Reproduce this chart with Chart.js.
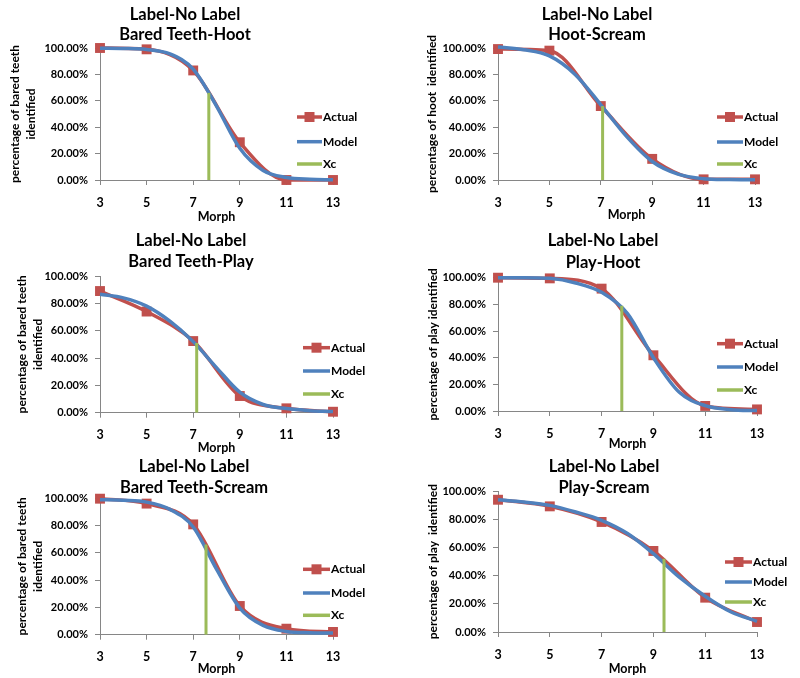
<!DOCTYPE html>
<html>
<head>
<meta charset="utf-8">
<script src="https://cdn.jsdelivr.net/npm/chart.js@4.4.0/dist/chart.umd.min.js"></script>
<style>
  html, body { margin: 0; padding: 0; background: #fff; overflow: hidden; }
  canvas { position: absolute; }
</style>
</head>
<body>
<canvas id="c1" width="400" height="230" style="left:0;top:0"></canvas>
<canvas id="c2" width="400" height="230" style="left:400px;top:0"></canvas>
<canvas id="c3" width="400" height="230" style="left:0;top:226px"></canvas>
<canvas id="c4" width="400" height="230" style="left:400px;top:226px"></canvas>
<canvas id="c5" width="400" height="230" style="left:0;top:452px"></canvas>
<canvas id="c6" width="400" height="230" style="left:400px;top:452px"></canvas>
<script>
// morph steps where the actual data was measured
const morph = [3, 5, 7, 9, 11, 13];
// morph steps of the fitted model curve
const modelX = [3, 4, 5, 6, 7, 8, 9, 10, 11, 12, 13];
const seriesNames = ["Actual", "Model", "Xc"];
const mainTitle = "Label-No Label";

// percent identified, per panel
const btHootActual = [100, 99, 83, 28.6, 0, 0];
const btHootModel = [99.9, 99.7, 98.9, 95.6, 84, 56, 24, 7.2, 1.9, 0.5, 0.1];
const btHootXc = [7.67, 66];

const hootScreamActual = [99.2, 98, 56, 16, 0.5, 0.5];
const hootScreamModel = [100.8, 98.7, 94, 80, 57, 33, 14, 4.5, 1, 0.3, 0.1];
const hootScreamXc = [7.07, 56];

const btPlayActual = [89, 74, 52.4, 12.2, 3.2, 0.7];
const btPlayModel = [86.6, 84, 78, 67, 52, 33, 15, 6, 3, 1.5, 0.8];
const btPlayXc = [7.15, 51];

const playHootActual = [100, 99.5, 91.8, 41.8, 3.8, 1.2];
const playHootModel = [100, 100, 99.5, 96, 89, 73, 40, 14, 4, 1, 0.3];
const playHootXc = [7.78, 79];

const btScreamActual = [99.5, 95.9, 80.7, 21, 4.4, 2];
const btScreamModel = [98.8, 98.3, 97, 91.7, 78.8, 48, 19.5, 6.8, 2.4, 1.5, 1.2];
const btScreamXc = [7.55, 66];

const playScreamActual = [94, 89.3, 78.2, 57.6, 24.4, 7.1];
const playScreamModel = [94, 92.4, 90, 85.3, 79.4, 70, 55.7, 39, 25.4, 14.2, 7.6];
const playScreamXc = [9.41, 52];

const RED = "#C0504D", BLUE = "#4F81BD", GREEN = "#9BBB59", AXIS = "#868686";
const FONT = "Lato, 'DejaVu Sans', sans-serif";

const panels = [
  { id: "c1", sub: "Bared Teeth-Hoot", yTitle: ["percentage of bared teeth", "identified"],
    actual: btHootActual, model: btHootModel, xc: btHootXc,
    box: { l: 100, r: 333, t: 48, b: 180, m: 216.7, pl: 7 },
    head: { cx: 185, y1: 15, y2: 35 }, leg: { x1: 297, x2: 322, ys: [117, 141.7, 164] } },
  { id: "c2", sub: "Hoot-Scream", yTitle: "percentage of hoot  identified",
    actual: hootScreamActual, model: hootScreamModel, xc: hootScreamXc,
    box: { l: 98, r: 355, t: 48, b: 180, m: 215, pl: 23.7 },
    head: { cx: 197, y1: 15, y2: 35 }, leg: { x1: 317, x2: 343, ys: [117, 142, 164] } },
  { id: "c3", sub: "Bared Teeth-Play", yTitle: ["percentage of bared teeth", "identified"],
    actual: btPlayActual, model: btPlayModel, xc: btPlayXc,
    box: { l: 100, r: 333, t: 50, b: 186.7, m: 221.7, pl: 13.7 },
    head: { cx: 191, y1: 15, y2: 36 }, leg: { x1: 303, x2: 330, ys: [121.7, 145, 168] } },
  { id: "c4", sub: "Play-Hoot", yTitle: "percentage of play identified",
    actual: playHootActual, model: playHootModel, xc: playHootXc,
    box: { l: 98, r: 357, t: 51.7, b: 185, m: 218, pl: 25.3 },
    head: { cx: 203, y1: 15, y2: 37 }, leg: { x1: 317, x2: 343, ys: [117.7, 141, 164] } },
  { id: "c5", sub: "Bared Teeth-Scream", yTitle: ["percentage of bared teeth", "identified"],
    actual: btScreamActual, model: btScreamModel, xc: btScreamXc,
    box: { l: 100, r: 333, t: 46, b: 182.7, m: 216.7, pl: 13.7 },
    head: { cx: 194, y1: 15, y2: 36 }, leg: { x1: 303, x2: 330, ys: [117.3, 141, 163.3] } },
  { id: "c6", sub: "Play-Scream", yTitle: "percentage of play  identified",
    actual: playScreamActual, model: playScreamModel, xc: playScreamXc,
    box: { l: 98, r: 357, t: 39.3, b: 180, m: 216.7, pl: 25.3 },
    head: { cx: 204, y1: 15, y2: 36 }, leg: { x1: 325, x2: 352, ys: [110, 130, 150] } }
];

const headPlugin = {
  id: "head",
  afterDraw(chart, args, opts) {
    const ctx = chart.ctx, h = opts.head;
    ctx.save();
    ctx.fillStyle = "#000";
    ctx.font = "bold 16.5px " + FONT;
    ctx.textAlign = "center";
    ctx.textBaseline = "middle";
    ctx.fillText(mainTitle, h.cx, h.y1);
    ctx.fillText(opts.sub, h.cx, h.y2);
    ctx.restore();
  }
};

const legendPlugin = {
  id: "sideLegend",
  afterDraw(chart, args, opts) {
    const ctx = chart.ctx, g = opts.leg;
    const colors = [RED, BLUE, GREEN];
    ctx.save();
    ctx.font = "bold 12px " + FONT;
    ctx.textBaseline = "middle";
    ctx.textAlign = "left";
    seriesNames.forEach((name, i) => {
      const y = g.ys[i];
      ctx.strokeStyle = colors[i];
      ctx.lineWidth = 3.5;
      ctx.beginPath();
      ctx.moveTo(g.x1, y);
      ctx.lineTo(g.x2, y);
      ctx.stroke();
      if (i === 0) {
        ctx.fillStyle = RED;
        ctx.fillRect((g.x1 + g.x2) / 2 - 5, y - 5, 10, 10);
      }
      ctx.fillStyle = "#000";
      ctx.fillText(name, g.x2 + 1, y);
    });
    ctx.restore();
  }
};

panels.forEach(p => {
  const b = p.box;
  const H = 230;
  const xBottom = b.m + 7;
  new Chart(document.getElementById(p.id), {
    type: "line",
    data: {
      datasets: [
        { label: seriesNames[0], data: morph.map((x, i) => ({ x: x, y: p.actual[i] })),
          borderColor: RED, backgroundColor: RED, borderWidth: 3.5,
          pointStyle: "rect", pointRadius: 7, pointBorderWidth: 0,
          cubicInterpolationMode: "monotone", order: 3, clip: false },
        { label: seriesNames[1], data: modelX.map((x, i) => ({ x: x, y: p.model[i] })),
          borderColor: BLUE, borderWidth: 3.5, pointRadius: 0,
          cubicInterpolationMode: "monotone", order: 2, clip: 3 },
        { label: seriesNames[2], data: [{ x: p.xc[0], y: 0 }, { x: p.xc[0], y: p.xc[1] }],
          borderColor: GREEN, borderWidth: 3, pointRadius: 0, order: 1 }
      ]
    },
    options: {
      responsive: false,
      animation: false,
      devicePixelRatio: 1,
      layout: { padding: { left: b.pl, right: 400 - b.r, top: b.t, bottom: H - xBottom } },
      plugins: {
        legend: { display: false },
        tooltip: { enabled: false },
        head: { head: p.head, sub: p.sub },
        sideLegend: { leg: p.leg }
      },
      scales: {
        x: {
          type: "linear", min: 3, max: 13,
          afterFit: s => { s.height = xBottom - b.b; },
          ticks: { stepSize: 2, color: "#000", padding: 10, maxRotation: 0,
                   font: { family: FONT, size: 12.5, weight: "bold" } },
          grid: { drawOnChartArea: false, drawTicks: true, tickLength: 5, color: AXIS },
          border: { color: AXIS, width: 1 },
          title: { display: true, text: "Morph", color: "#000", padding: 0,
                   font: { family: FONT, size: 12.5, weight: "bold", lineHeight: "14px" } }
        },
        y: {
          min: 0, max: 100,
          afterFit: s => { s.width = b.l - b.pl; },
          ticks: { stepSize: 20, color: "#000", padding: 7,
                   callback: v => v.toFixed(2) + "%",
                   font: { family: FONT, size: 11, weight: "bold" } },
          grid: { drawOnChartArea: false, drawTicks: true, tickLength: 5, color: AXIS },
          border: { color: AXIS, width: 1 },
          title: { display: true, text: p.yTitle, color: "#000", padding: 0,
                   font: { family: FONT, size: 12, weight: "bold", lineHeight: "16px" } }
        }
      }
    },
    plugins: [headPlugin, legendPlugin]
  });
});
</script>
</body>
</html>
